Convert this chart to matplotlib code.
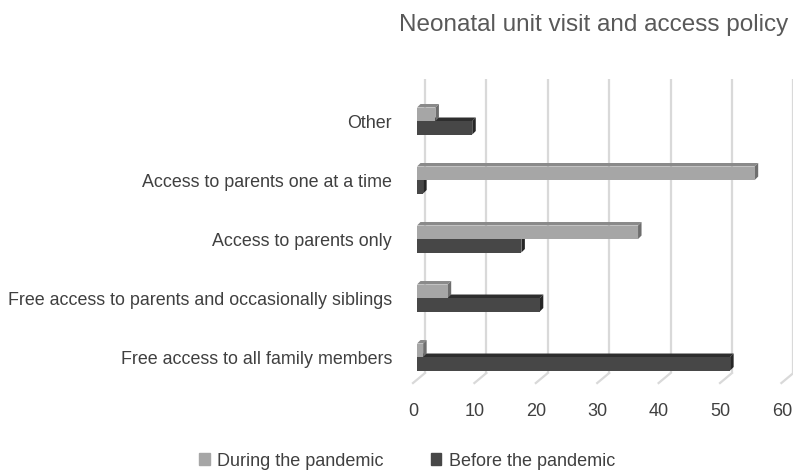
import matplotlib.pyplot as plt
import matplotlib.transforms as mtransforms
from matplotlib.patches import Polygon, Patch

# data
categories = ["Free access to all family members",
              "Free access to parents and occasionally siblings",
              "Access to parents only",
              "Access to parents one at a time",
              "Other"]
during = [1, 5, 36, 55, 3]
before = [51, 20, 17, 1, 9]
ticks = [0, 10, 20, 30, 40, 50, 60]

plt.rcParams['font.family'] = ['Liberation Sans', 'DejaVu Sans']

W, H, DPI = 7.93, 4.71, 100
fig = plt.figure(figsize=(W, H), dpi=DPI)

# axes = front plane of the bars
ax_pos = [417 / 793, 1 - 390 / 471, 368.4 / 793, 310 / 471]
ax = fig.add_axes(ax_pos)
xlim = (0, 60)
ylim = (-0.559, 4.695)
ax.set_xlim(*xlim)
ax.set_ylim(*ylim)

# pixels per data unit
ux = ax_pos[2] * W * DPI / (xlim[1] - xlim[0])
uy = ax_pos[3] * H * DPI / (ylim[1] - ylim[0])

def px(dx, dy):
    return dx / ux, dy / uy

# back wall and floor
wall_dx, wall_dy = px(8, 6.7)
front_dx, front_dy = px(-4, -3.3)
y_floor = -0.385
y_top = 4.72
grid_col = '#d9d9d9'
for t in ticks:
    ax.plot([t + wall_dx, t + wall_dx], [y_floor + wall_dy, y_top], color=grid_col,
            lw=1.6, zorder=1, clip_on=False, solid_capstyle='butt')
    ax.plot([t + front_dx, t + wall_dx], [y_floor + front_dy, y_floor + wall_dy],
            color=grid_col, lw=1.6, zorder=1, clip_on=False)

# 3d bars
bh = 13.5 / uy
ddx, ddy = px(3.5, 3.5)

def bar3d(y0, v, front, top, side, z):
    ax.add_patch(Polygon([(0, y0 + bh), (v, y0 + bh), (v + ddx, y0 + bh + ddy),
                          (ddx, y0 + bh + ddy)], closed=True, fc=top, ec='none', zorder=z))
    ax.add_patch(Polygon([(v, y0), (v, y0 + bh), (v + ddx, y0 + bh + ddy),
                          (v + ddx, y0 + ddy)], closed=True, fc=side, ec='none', zorder=z))
    ax.barh(y0, v, height=bh, left=0, align='edge', color=front, zorder=z + 0.5,
            edgecolor='none')

for i, (d, b) in enumerate(zip(during, before)):
    bar3d(i - bh, b, '#474747', '#2e2e2e', '#262626', 3 + i * 0.01)
    bar3d(i, d, '#a6a6a6', '#8a8a8a', '#6e6e6e', 5 + i * 0.01)

for s in ax.spines.values():
    s.set_visible(False)
ax.set_yticks(range(len(categories)))
ax.set_yticklabels(categories)
ax.set_xticks(ticks)
ax.set_xticklabels([str(t) for t in ticks])
ax.tick_params(axis='y', length=0, pad=18, labelsize=12.9, labelcolor='#404040')
ax.tick_params(axis='x', length=0, pad=9, labelsize=13, labelcolor='#404040')
shift = mtransforms.ScaledTranslation(-3.5 / DPI, 0, fig.dpi_scale_trans)
for lab in ax.get_xticklabels():
    lab.set_transform(lab.get_transform() + shift)
ax.patch.set_visible(False)

fig.text(594 / 793, 1 - 25 / 471, "Neonatal unit visit and access policy",
         ha='center', va='center', fontsize=17.5, color='#595959')

handles = [Patch(color='#a6a6a6', label='During the pandemic'),
           Patch(color='#474747', label='Before the pandemic')]
fig.legend(handles=handles, loc='center', bbox_to_anchor=(407 / 793, 1 - 461 / 471),
           ncol=2, frameon=False, fontsize=13, labelcolor='#404040',
           handlelength=0.6, handleheight=0.6, handletextpad=0.4, columnspacing=2.6)

fig.savefig('out.png', dpi=DPI)
